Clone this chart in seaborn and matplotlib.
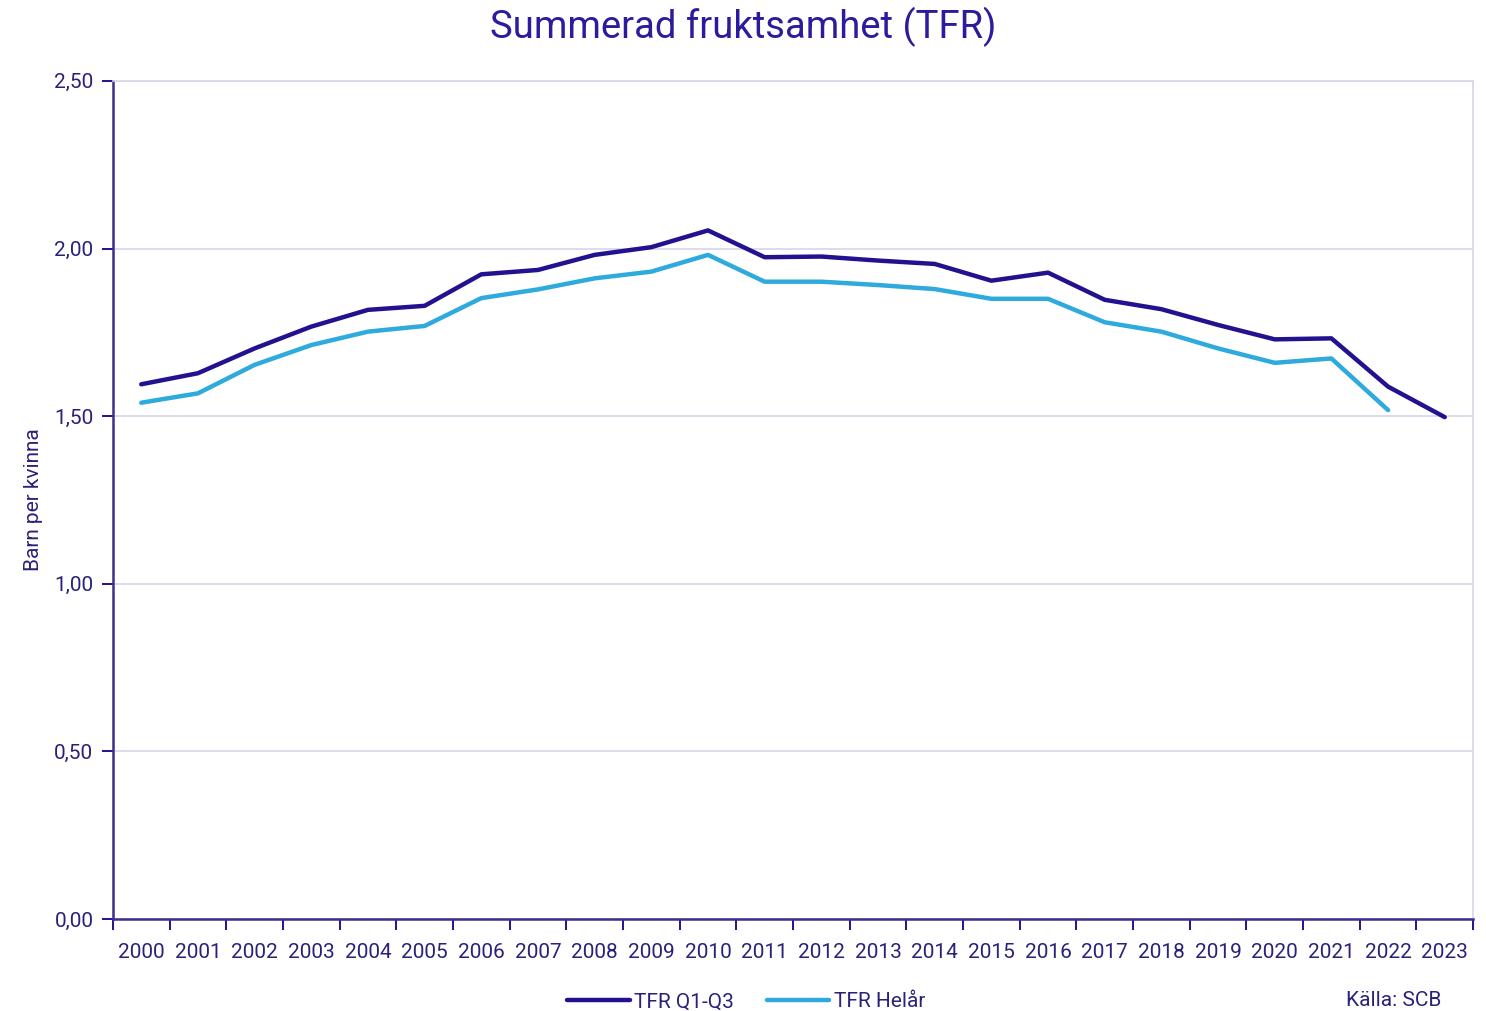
import matplotlib
matplotlib.use("Agg")
import matplotlib.pyplot as plt
import seaborn as sns
import pandas as pd
import numpy as np
from matplotlib.ticker import FixedLocator, FuncFormatter

# data
years = [str(y) for y in range(2000, 2024)]
tfr_q1_q3 = [1.595, 1.628, 1.702, 1.767, 1.817, 1.829, 1.923, 1.936, 1.981, 2.004,
             2.054, 1.974, 1.976, 1.964, 1.954, 1.904, 1.928, 1.847, 1.819, 1.772,
             1.729, 1.732, 1.588, 1.497]
tfr_helar = [1.540, 1.568, 1.653, 1.712, 1.752, 1.769, 1.852, 1.878, 1.911, 1.931,
             1.981, 1.901, 1.901, 1.891, 1.879, 1.850, 1.850, 1.780, 1.752, 1.702,
             1.659, 1.672, 1.518, np.nan]
series_names = ["TFR Q1-Q3", "TFR Helår"]
y_ticks = [0.0, 0.5, 1.0, 1.5, 2.0, 2.5]

DARK = "#23128F"
LIGHT = "#2EAADD"
TEXT = "#2A2278"
GRID = "#D6D6EA"

sns.set_theme(style="white")
plt.rcParams["font.family"] = ["Roboto", "DejaVu Sans"]

pos = np.arange(len(years))
df = pd.DataFrame({
    "pos": np.concatenate([pos, pos]),
    "value": tfr_q1_q3 + tfr_helar,
    "serie": [series_names[0]] * len(years) + [series_names[1]] * len(years),
})

fig = plt.figure(figsize=(14.86, 10.11), dpi=100)
ax = fig.add_axes([0.076, 0.091, 0.9153, 0.829])

sns.lineplot(data=df, x="pos", y="value", hue="serie",
             palette=[DARK, LIGHT], linewidth=3.2, ax=ax, legend=False)

ax.set_xlim(-0.5, len(years) - 0.5)
ax.set_ylim(0, 2.5)

# ticks at category boundaries, labels in between
ax.xaxis.set_major_locator(FixedLocator(np.arange(-0.5, len(years), 1.0)))
ax.xaxis.set_major_formatter(FuncFormatter(lambda v, p: ""))
ax.set_xticks(pos, labels=years, minor=True)
ax.tick_params(axis="x", which="major", bottom=True, length=8, width=1.4,
               color=DARK, direction="out")
ax.tick_params(axis="x", which="minor", bottom=True, length=0, pad=17,
               labelsize=15, labelcolor=TEXT)

ax.set_yticks(y_ticks)
ax.yaxis.set_major_formatter(FuncFormatter(lambda v, p: f"{v:.2f}".replace(".", ",")))
ax.tick_params(axis="y", left=True, length=8, width=1.4, color=DARK, direction="out",
               labelsize=15, labelcolor=TEXT, pad=6)

ax.grid(axis="y", color=GRID, linewidth=1.2)
ax.set_axisbelow(True)
for side in ["left", "bottom"]:
    ax.spines[side].set_color("#3A2F8A")
    ax.spines[side].set_linewidth(1.8)
for side in ["top", "right"]:
    ax.spines[side].set_color(GRID)
    ax.spines[side].set_linewidth(1.2)

ax.set_xlabel("")
ax.set_ylabel("Barn per kvinna", fontsize=15, color=TEXT, labelpad=8)

fig.text(0.5, 0.973, "Summerad fruktsamhet (TFR)", ha="center", va="center",
         fontsize=27.5, color="#2B1C9E")

handles = [plt.Line2D([], [], color=DARK, linewidth=3.2),
           plt.Line2D([], [], color=LIGHT, linewidth=3.2)]
fig.legend(handles, series_names, loc="center", bbox_to_anchor=(0.502, 0.009),
           ncol=2, frameon=False, fontsize=15, labelcolor=TEXT,
           handlelength=3.0, handletextpad=0.2, columnspacing=1.6)

fig.text(0.97, 0.01, "Källa: SCB", ha="right", va="center", fontsize=15, color=TEXT)

fig.savefig("out.png", dpi=100)
